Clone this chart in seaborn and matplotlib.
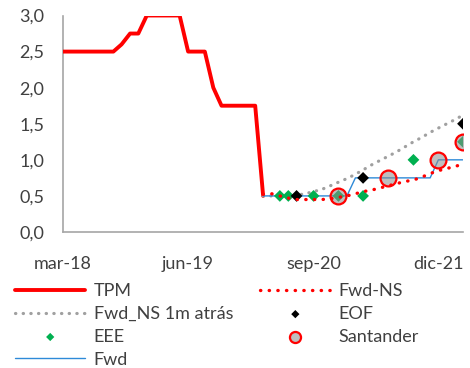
import matplotlib
matplotlib.use("Agg")
import matplotlib.pyplot as plt
import seaborn as sns
import pandas as pd
import numpy as np

# ---- data ----
tpm_dates = pd.date_range("2018-03-01", "2020-03-01", freq="MS")
tpm_values = [2.5, 2.5, 2.5, 2.5, 2.5, 2.5, 2.5, 2.6, 2.75, 2.75,
              3.0, 3.0, 3.0, 3.0, 3.0, 2.5, 2.5, 2.5, 2.0, 1.75,
              1.75, 1.75, 1.75, 1.75, 0.5]

fwd_dates = pd.date_range("2020-03-01", "2022-03-01", freq="MS")
fwd_values = [0.5] * 11 + [0.75] * 10 + [1.0] * 4
fwd_ns_values = [0.52, 0.53, 0.50, 0.47, 0.45, 0.45, 0.45, 0.45, 0.46, 0.48,
                 0.50, 0.53, 0.56, 0.58, 0.61, 0.64, 0.67, 0.70, 0.72, 0.76,
                 0.81, 0.85, 0.88, 0.91, 0.94]
fwd_ns_1m_values = [0.50, 0.50, 0.50, 0.50, 0.51, 0.53, 0.56, 0.59, 0.64, 0.69,
                    0.74, 0.80, 0.86, 0.93, 0.99, 1.05, 1.11, 1.18, 1.25, 1.31,
                    1.38, 1.44, 1.50, 1.56, 1.62]

eee_dates = pd.to_datetime(["2020-05-01", "2020-06-01", "2020-09-01", "2020-12-01",
                            "2021-03-01", "2021-09-01", "2022-03-01"])
eee_values = [0.5, 0.5, 0.5, 0.5, 0.5, 1.0, 1.25]
eof_dates = pd.to_datetime(["2020-07-01", "2021-03-01", "2022-03-01"])
eof_values = [0.5, 0.75, 1.5]
santander_dates = pd.to_datetime(["2020-12-01", "2021-06-01", "2021-12-01", "2022-03-01"])
santander_values = [0.5, 0.75, 1.0, 1.25]

tick_dates = pd.to_datetime(["2018-03-01", "2019-06-01", "2020-09-01", "2021-12-01"])
tick_labels = ["mar-18", "jun-19", "sep-20", "dic-21"]
y_ticks = [0.0, 0.5, 1.0, 1.5, 2.0, 2.5, 3.0]

# ---- style ----
sns.set_style("white")
plt.rcParams["font.family"] = ["Lato", "DejaVu Sans"]
FS = 13
TXT = "#404040"
AX = "#A6A6A6"

fig = plt.figure(figsize=(4.7, 3.68), dpi=100)
ax = fig.add_axes([63 / 470, 1 - 232 / 368, 400 / 470, (232 - 15.5) / 368])

sns.lineplot(x=tpm_dates, y=tpm_values, ax=ax, color="#FF0000", lw=2.8,
             label="TPM", zorder=3)
sns.lineplot(x=fwd_dates, y=fwd_ns_1m_values, ax=ax, color="#A0A0A0", lw=2.3,
             label="Fwd_NS 1m atrás", zorder=3, dashes=False,
             linestyle=(0, (0.1, 2.3)), dash_capstyle="round")
sns.lineplot(x=fwd_dates, y=fwd_values, ax=ax, color="#2E8AD8", lw=1.0,
             label="Fwd", zorder=4)
sns.scatterplot(x=eee_dates, y=eee_values, ax=ax, marker="D", s=36,
                color="#00B050", edgecolor="none", label="EEE", zorder=5)
sns.scatterplot(x=eof_dates, y=eof_values, ax=ax, marker="D", s=36,
                color="black", edgecolor="none", label="EOF", zorder=5)
sns.scatterplot(x=santander_dates, y=santander_values, ax=ax, marker="o", s=130,
                facecolor=(0.55, 0.55, 0.55, 0.55), edgecolor="#FF0000",
                linewidth=1.6, label="Santander", zorder=6)
sns.lineplot(x=fwd_dates, y=fwd_ns_values, ax=ax, color="#FF0000", lw=2.4,
             label="Fwd-NS", zorder=7, dashes=False,
             linestyle=(0, (0.1, 2.5)), dash_capstyle="round")

ax.set_xlim(pd.Timestamp("2018-03-01"), pd.Timestamp("2022-03-01"))
ax.set_ylim(0, 3.0)
ax.set_xticks(tick_dates)
ax.set_xticklabels(tick_labels)
ax.set_yticks(y_ticks)
ax.set_yticklabels([f"{v:.1f}".replace(".", ",") for v in y_ticks])
ax.set_xlabel("")
ax.set_ylabel("")

for s in ["top", "right"]:
    ax.spines[s].set_visible(False)
for s in ["left", "bottom"]:
    ax.spines[s].set_color(AX)
    ax.spines[s].set_linewidth(1.2)
ax.tick_params(axis="both", colors=AX, labelcolor=TXT, labelsize=FS,
               direction="out", width=1.2)
ax.tick_params(axis="y", length=4.5, pad=9)
ax.tick_params(axis="x", length=4.5, pad=13)

handles, labels = ax.get_legend_handles_labels()
ax.get_legend().remove()
hmap = dict(zip(labels, handles))
order = ["TPM", "Fwd_NS 1m atrás", "EEE", "Fwd", "Fwd-NS", "EOF", "Santander"]
fig.legend([hmap[k] for k in order], order, loc="upper left",
           bbox_to_anchor=(15 / 470, 1 - 283 / 368), ncol=2, frameon=False,
           fontsize=FS, handlelength=3.9, handletextpad=0.45,
           columnspacing=1.5, labelspacing=0.38, borderpad=0, borderaxespad=0,
           markerscale=0.7, labelcolor=TXT)

fig.savefig("out.png", dpi=100)
